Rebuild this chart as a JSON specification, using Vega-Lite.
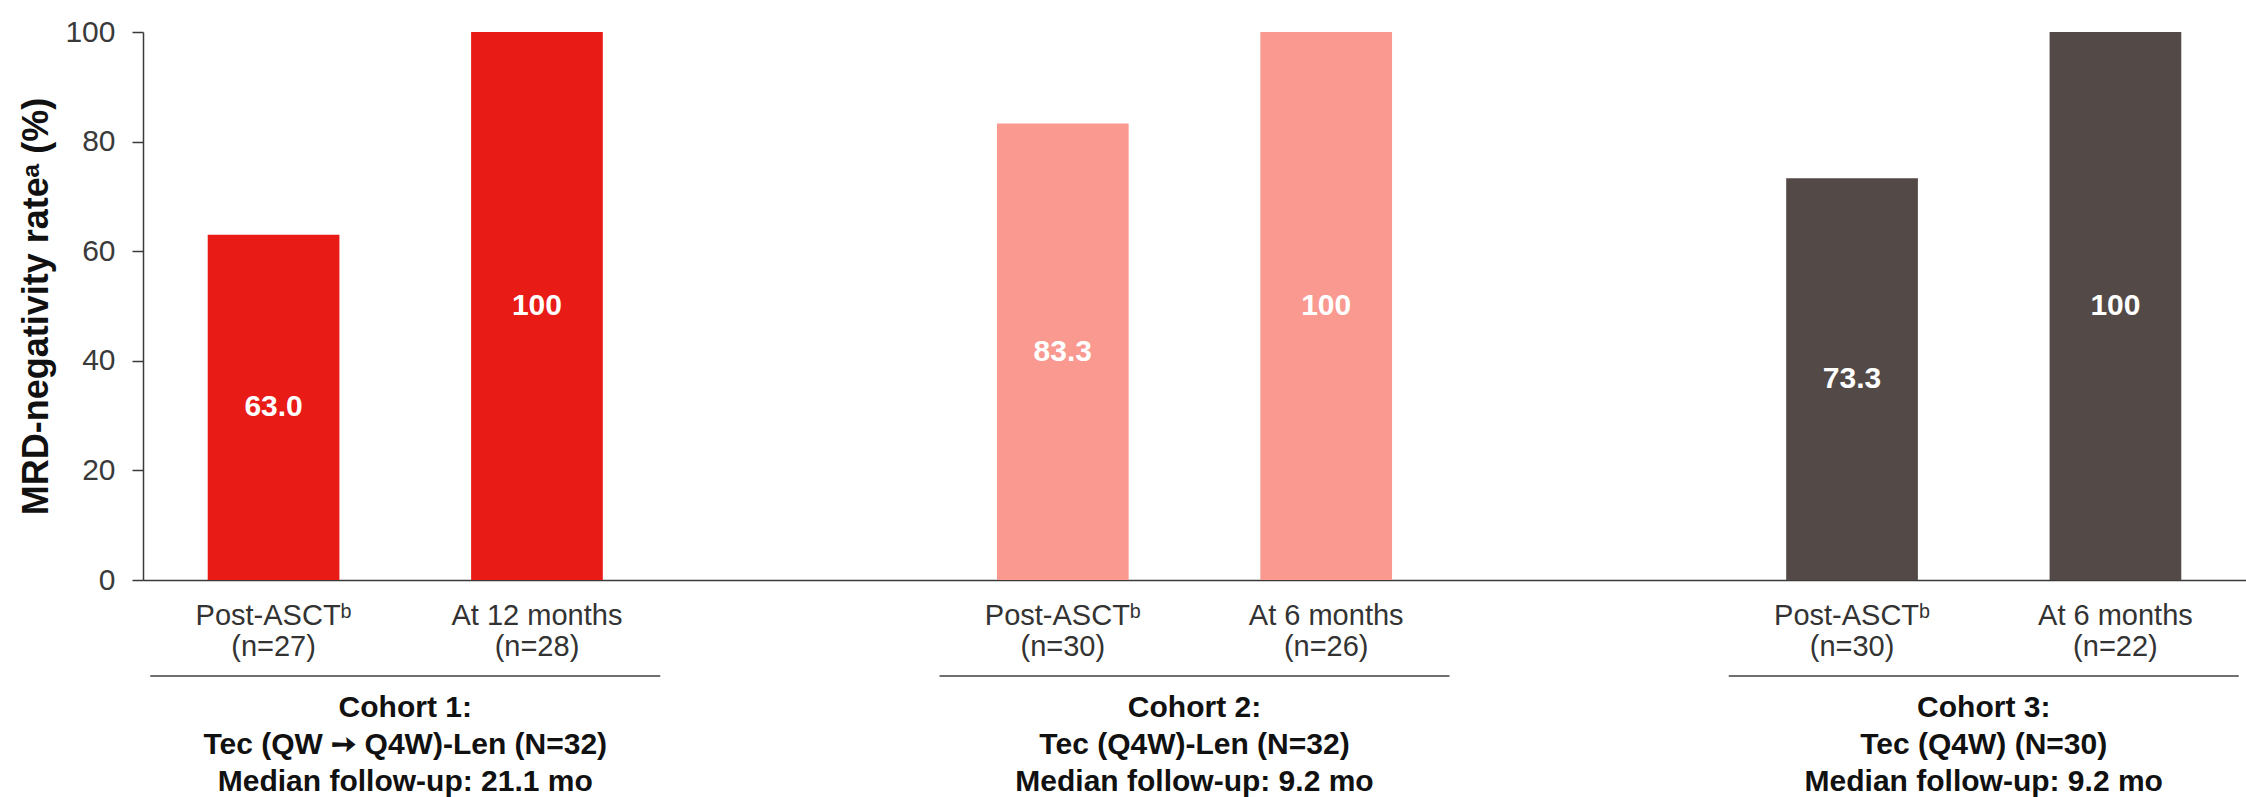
{
  "$schema": "https://vega.github.io/schema/vega-lite/v6.json",
  "width": 2103,
  "height": 548,
  "autosize": {"type": "none"},
  "padding": {"left": 143, "top": 32, "right": 0, "bottom": 217},
  "background": "white",
  "config": {"view": {"stroke": null}, "font": "Liberation Sans"},
  "data": {
    "values": [
      {"cohort": "Cohort 1:\nTec (QW ➙ Q4W)-Len (N=32)\nMedian follow-up: 21.1 mo", "group": "Cohort 1", "assessment": "Post-ASCT", "label": "Post-ASCTᵇ\n(n=27)", "value": 63.0},
      {"cohort": "Cohort 1:\nTec (QW ➙ Q4W)-Len (N=32)\nMedian follow-up: 21.1 mo", "group": "Cohort 1", "assessment": "Follow-up", "label": "At 12 months\n(n=28)", "value": 100},
      {"cohort": "Cohort 2:\nTec (Q4W)-Len (N=32)\nMedian follow-up: 9.2 mo", "group": "Cohort 2", "assessment": "Post-ASCT", "label": "Post-ASCTᵇ\n(n=30)", "value": 83.3},
      {"cohort": "Cohort 2:\nTec (Q4W)-Len (N=32)\nMedian follow-up: 9.2 mo", "group": "Cohort 2", "assessment": "Follow-up", "label": "At 6 months\n(n=26)", "value": 100},
      {"cohort": "Cohort 3:\nTec (Q4W) (N=30)\nMedian follow-up: 9.2 mo", "group": "Cohort 3", "assessment": "Post-ASCT", "label": "Post-ASCTᵇ\n(n=30)", "value": 73.3},
      {"cohort": "Cohort 3:\nTec (Q4W) (N=30)\nMedian follow-up: 9.2 mo", "group": "Cohort 3", "assessment": "Follow-up", "label": "At 6 months\n(n=22)", "value": 100}
    ]
  },
  "encoding": {
    "x": {
      "field": "cohort",
      "type": "nominal",
      "sort": null,
      "scale": {"paddingInner": 0.4994, "paddingOuter": 0.082},
      "axis": {
        "title": null,
        "ticks": false,
        "tickSize": 0,
        "labelPadding": 112,
        "labelFontSize": 30,
        "labelFontWeight": "bold",
        "labelColor": "#111111",
        "labelLineHeight": 37,
        "labelExpr": "split(datum.label, '\\n')",
        "labelLimit": 1000,
        "labelOverlap": false,
        "labelFlush": false,
        "labelAngle": 0,
        "domainColor": "#3a3a3a",
        "domainWidth": 1.5
      }
    }
  },
  "layer": [
    {
      "mark": {"type": "bar"},
      "encoding": {
        "xOffset": {"field": "assessment", "type": "nominal", "sort": ["Post-ASCT", "Follow-up"], "scale": {"paddingInner": 0.5, "paddingOuter": 0}},
        "y": {
          "field": "value",
          "type": "quantitative",
          "scale": {"domain": [0, 100]},
          "axis": {
            "title": "MRD-negativity rateᵃ (%)",
            "titleFontSize": 36,
            "titleFontWeight": "bold",
            "titleColor": "#111111",
            "titlePadding": 9,
            "values": [0, 20, 40, 60, 80, 100],
            "tickSize": 11,
            "tickColor": "#3a3a3a",
            "tickWidth": 1.5,
            "labelFontSize": 30,
            "labelColor": "#3a3a3a",
            "labelPadding": 17,
            "domainColor": "#3a3a3a",
            "domainWidth": 1.5,
            "grid": false
          }
        },
        "color": {
          "field": "group",
          "type": "nominal",
          "scale": {"domain": ["Cohort 1", "Cohort 2", "Cohort 3"], "range": ["#E81B17", "#F9998F", "#534946"]},
          "legend": null
        }
      }
    },
    {
      "transform": [{"calculate": "datum.value / 2", "as": "mid"}],
      "mark": {"type": "text", "color": "white", "fontWeight": "bold", "fontSize": 30, "baseline": "middle", "align": "center"},
      "encoding": {
        "xOffset": {"field": "assessment", "type": "nominal", "sort": ["Post-ASCT", "Follow-up"], "scale": {"paddingInner": 0.5, "paddingOuter": 0}},
        "y": {"field": "mid", "type": "quantitative"},
        "text": {"field": "value", "type": "quantitative", "format": ".3r"}
      }
    },
    {
      "mark": {"type": "text", "lineBreak": "\n", "fontSize": 29, "lineHeight": 31, "baseline": "top", "align": "center", "color": "#333333", "dy": 22},
      "encoding": {
        "xOffset": {"field": "assessment", "type": "nominal", "sort": ["Post-ASCT", "Follow-up"], "scale": {"paddingInner": 0.5, "paddingOuter": 0}},
        "y": {"datum": 0},
        "text": {"field": "label", "type": "nominal"}
      }
    },
    {
      "transform": [{"aggregate": [{"op": "count", "as": "k"}], "groupby": ["cohort"]}],
      "mark": {"type": "tick", "orient": "horizontal", "size": 510, "thickness": 2, "color": "#333333"},
      "encoding": {
        "y": {"datum": -17.5}
      }
    }
  ]
}
